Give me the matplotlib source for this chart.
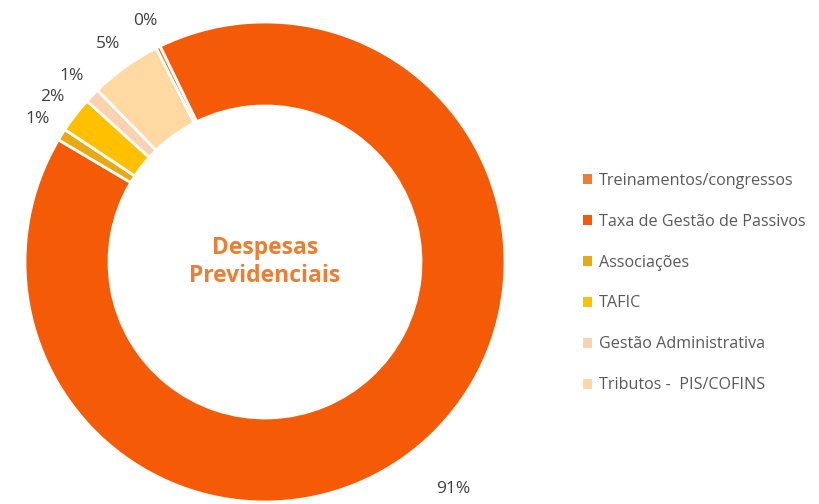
import numpy as np
import matplotlib
matplotlib.use('Agg')
import matplotlib.pyplot as plt
from matplotlib.patches import Patch

# ---- data ----
categories = ["Treinamentos/congressos", "Taxa de Gestão de Passivos", "Associações",
              "TAFIC", "Gestão Administrativa", "Tributos -  PIS/COFINS"]
shares = [0.3, 90.7, 0.8, 2.4, 1.0, 4.8]
colors = ["#ED7D31", "#F55B06", "#E8A912", "#FFC000", "#FAD2B0", "#FFD8A2"]
center_title = "Despesas\nPrevidenciais"

plt.rcParams['font.family'] = ['Open Sans', 'DejaVu Sans']

fig = plt.figure(figsize=(8.2, 5.04), dpi=100)
fig.patch.set_facecolor('white')

# donut axes: centre ~ (265, 262) px, radius ~ 240 px
ax = fig.add_axes([25 / 820, 2 / 504, 480 / 820, 480 / 504])
ax.set_aspect('equal')

wedges, _ = ax.pie(shares, colors=colors, startangle=117.0, counterclock=False,
                   radius=1.0, wedgeprops=dict(width=0.35, edgecolor='white', linewidth=2))
ax.set_xlim(-1, 1)
ax.set_ylim(-1, 1)

# percentage labels outside the ring
for w, v in zip(wedges, shares):
    mid = np.deg2rad((w.theta1 + w.theta2) / 2)
    r = 1.12
    if v > 50:
        r = 1.23
        mid -= np.deg2rad(3)
    ax.text(r * np.cos(mid), r * np.sin(mid), f"{v:.0f}%", ha='center', va='center',
            fontsize=12.5, color='#404040')

ax.text(0, 0.0, center_title, ha='center', va='center', fontsize=16.5,
        fontweight='bold', color='#ED7D31', linespacing=1.2)

handles = [Patch(facecolor=c, edgecolor='none') for c in colors]
fig.legend(handles, categories, loc='center left', bbox_to_anchor=(569 / 820, 1 - 283 / 504),
           frameon=False, fontsize=11.6, labelcolor='#595959', handlelength=0.55,
           handleheight=0.55, handletextpad=0.4, labelspacing=1.55)

fig.savefig('out.png', dpi=100)
